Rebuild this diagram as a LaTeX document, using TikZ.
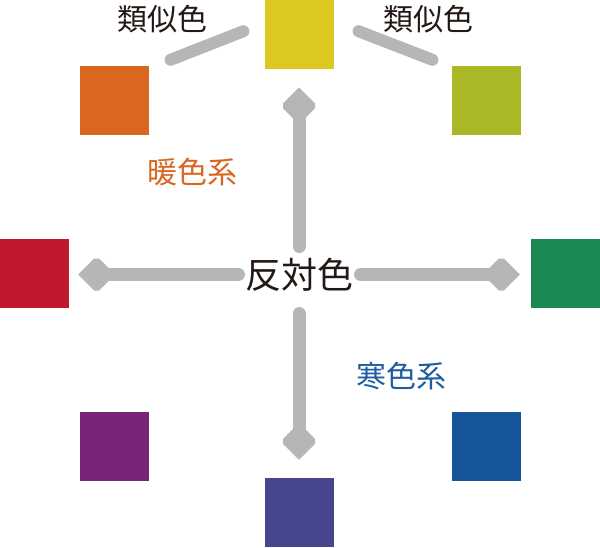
\documentclass[tikz,border=0pt]{standalone}
\usepackage{fontspec}
\newfontfamily\cjk{Noto Sans CJK JP}
\usetikzlibrary{calc}
\definecolor{cyellow}{RGB}{220,200,30}
\definecolor{corange}{RGB}{217,103,32}
\definecolor{cygreen}{RGB}{170,184,40}
\definecolor{cred}{RGB}{192,24,44}
\definecolor{cgreen}{RGB}{27,138,82}
\definecolor{cpurple}{RGB}{122,36,120}
\definecolor{cblue}{RGB}{21,86,155}
\definecolor{cindigo}{RGB}{70,70,142}
\definecolor{cgray}{RGB}{181,182,182}
\definecolor{cwarm}{RGB}{217,103,32}
\definecolor{ccool}{RGB}{30,92,160}
\definecolor{ctext}{RGB}{35,24,21}
\newcommand{\headat}[2]{%
  \fill[cgray,shift={(#1)},rotate=#2] (0,0) -- (-16,16) -- (-16,21) -- (-6.5,30.5)
    -- (6.5,30.5) -- (16,21) -- (16,16) -- cycle;}
\begin{document}
\begin{tikzpicture}[x=1pt,y=-1pt,
  sq/.style={minimum size=69pt,inner sep=0pt,draw=none},
  lbl/.style={font=\cjk\fontsize{30pt}{30pt}\selectfont,inner sep=0pt,text=ctext},
  shaft/.style={draw=cgray,line width=13pt,line cap=round,shorten >=24pt},
  simline/.style={draw=cgray,line width=12pt,line cap=round}]
\useasboundingbox (0,0) rectangle (600,547);
% squares
\node[sq,fill=cyellow] (y) at (299.3,34.3) {};
\node[sq,fill=corange] (o) at (114.3,100.5) {};
\node[sq,fill=cygreen] (g) at (486,100.5) {};
\node[sq,fill=cred] (r) at (34.5,273.5) {};
\node[sq,fill=cgreen] (gr) at (565.5,273.5) {};
\node[sq,fill=cpurple] (p) at (114,446) {};
\node[sq,fill=cblue] (b) at (486,446) {};
\node[sq,fill=cindigo] (i) at (299.5,512.5) {};
% center label
\node[lbl,font=\cjk\fontsize{36pt}{36pt}\selectfont] (c) at (299,274.5) {反対色};
% labels
\node[lbl] (s1) at (162,19) {類似色};
\node[lbl] (s2) at (428,19) {類似色};
\node[lbl,text=cwarm] (w) at (192.5,172) {暖色系};
\node[lbl,text=ccool] (k) at (401,376) {寒色系};
% similarity lines
\coordinate (la) at (170.6,59.8);
\coordinate (lb) at (243.4,31.2);
\coordinate (ra) at (358.6,31.2);
\coordinate (rb) at (432.4,59.8);
\draw[simline] (la) -- (lb);
\draw[simline] (ra) -- (rb);
% arrow tips
\coordinate (tu) at ($(c.center |- y.south)+(0,18.3)$);
\coordinate (td) at ($(c.center |- i.north)+(0,-18)$);
\coordinate (tl) at ($(c.center -| r.east)+(9,0)$);
\coordinate (tr) at ($(c.center -| gr.west)+(-11,0)$);
% arrows
\draw[shaft,shorten <=28pt] (c.center) -- (tu);
\draw[shaft,shorten <=39pt] (c.center) -- (td);
\draw[shaft,shorten <=60.5pt] (c.center) -- (tl);
\draw[shaft,shorten <=61.5pt] (c.center) -- (tr);
\headat{tu}{0}
\headat{td}{180}
\headat{tl}{90}
\headat{tr}{-90}
\end{tikzpicture}
\end{document}
